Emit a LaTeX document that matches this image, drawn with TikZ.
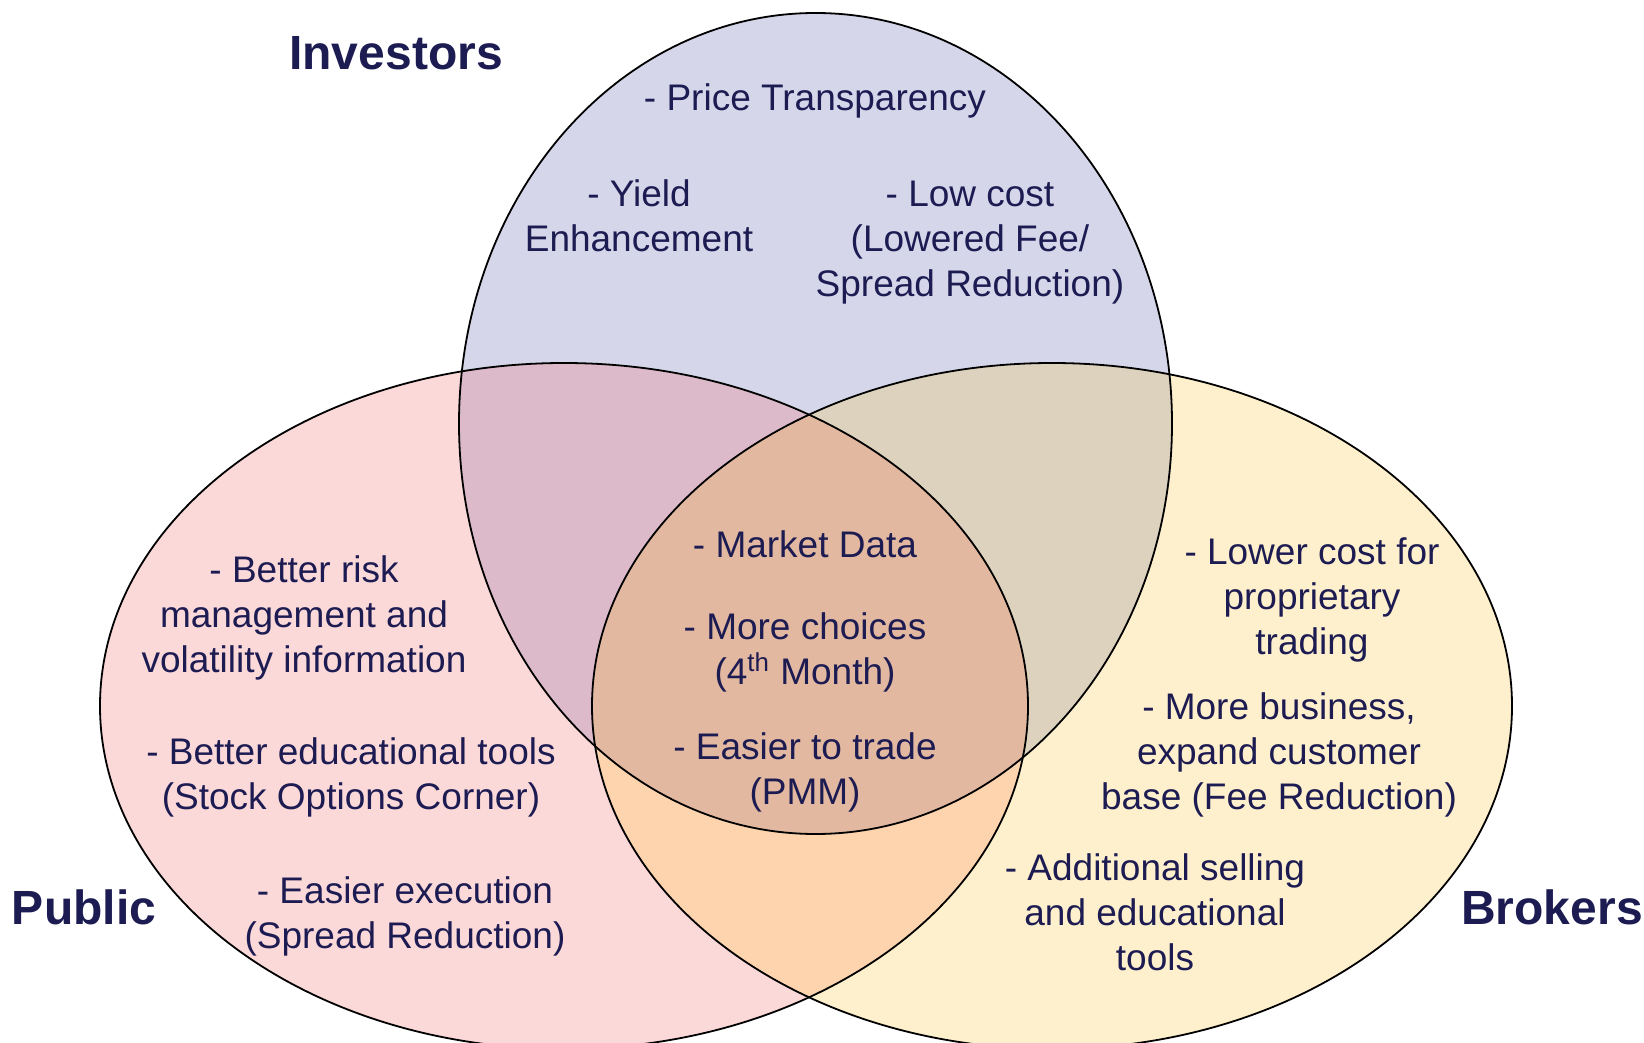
\documentclass[tikz,border=0pt]{standalone}
\usepackage{fontspec}
\setmainfont{Liberation Sans}
\definecolor{navy}{HTML}{1C1B52}
\definecolor{invc}{HTML}{D6D6EA}
\definecolor{pubc}{HTML}{FCD9D9}
\definecolor{brkc}{HTML}{FFF0CD}
\definecolor{ipc}{HTML}{DDBACA}
\definecolor{ibc}{HTML}{DDD2BD}
\definecolor{pbc}{HTML}{FDD4AE}
\definecolor{ipbc}{HTML}{E2B8A0}
\tikzset{
  body/.style={font=\fontsize{18.5}{22.5}\selectfont, text=navy, align=center, anchor=base, inner sep=0pt},
  title/.style={font=\fontsize{24}{28}\selectfont\bfseries, text=navy, anchor=base, inner sep=0pt},
  outline/.style={draw=black, line width=0.9pt},
}
\begin{document}
\begin{tikzpicture}[x=0.5pt,y=-0.5pt]
\useasboundingbox (0,0) rectangle (1644,1043);
\clip (0,0) rectangle (1644,1043);
% base fills
\fill[invc] (815.5,423.5) ellipse [x radius=178.25pt, y radius=205.25pt];
\fill[pubc] (564,706) ellipse [x radius=232pt, y radius=171.5pt];
\fill[brkc] (1052,706) ellipse [x radius=230pt, y radius=171.5pt];
% pairwise overlaps
\begin{scope}
  \clip (815.5,423.5) ellipse [x radius=178.25pt, y radius=205.25pt];
  \fill[ipc] (564,706) ellipse [x radius=232pt, y radius=171.5pt];
\end{scope}
\begin{scope}
  \clip (815.5,423.5) ellipse [x radius=178.25pt, y radius=205.25pt];
  \fill[ibc] (1052,706) ellipse [x radius=230pt, y radius=171.5pt];
\end{scope}
\begin{scope}
  \clip (564,706) ellipse [x radius=232pt, y radius=171.5pt];
  \fill[pbc] (1052,706) ellipse [x radius=230pt, y radius=171.5pt];
\end{scope}
\begin{scope}
  \clip (564,706) ellipse [x radius=232pt, y radius=171.5pt];
  \clip (1052,706) ellipse [x radius=230pt, y radius=171.5pt];
  \fill[ipbc] (815.5,423.5) ellipse [x radius=178.25pt, y radius=205.25pt];
\end{scope}
% outlines
\draw[outline] (815.5,423.5) ellipse [x radius=178.25pt, y radius=205.25pt];
\draw[outline] (564,706) ellipse [x radius=232pt, y radius=171.5pt];
\draw[outline] (1052,706) ellipse [x radius=230pt, y radius=171.5pt];
% titles
\node[title] (tinv) at (396,70) {Investors};
\node[title] (tpub) at (84,924) {Public};
\node[title] (tbrk) at (1552,924) {Brokers};
% investors texts (anchored at the last line's baseline)
\node[body] (inv1) at (815,111) {- Price Transparency};
\node[body] (inv2) at (639,252) {- Yield\\Enhancement};
\node[body] (inv3) at (970,297) {- Low cost\\(Lowered Fee/\\Spread Reduction)};
% public texts
\node[body] (pub1) at (304,672) {- Better risk\\management and\\volatility information};
\node[body] (pub2) at (351,809) {- Better educational tools\\(Stock Options Corner)};
\node[body] (pub3) at (405,948) {- Easier execution\\(Spread Reduction)};
% middle texts
\node[body] (mid1) at (805,557) {- Market Data};
\node[body] (mid2) at (805,684) {- More choices\\(4\textsuperscript{th} Month)};
\node[body] (mid3) at (805,804) {- Easier to trade\\(PMM)};
% brokers texts
\node[body] (brk1) at (1312,654) {- Lower cost for\\proprietary\\trading};
\node[body] (brk2) at (1279,809) {- More business,\\expand customer\\base (Fee Reduction)};
\node[body] (brk3) at (1155,970) {- Additional selling\\and educational\\tools};
\end{tikzpicture}
\end{document}
